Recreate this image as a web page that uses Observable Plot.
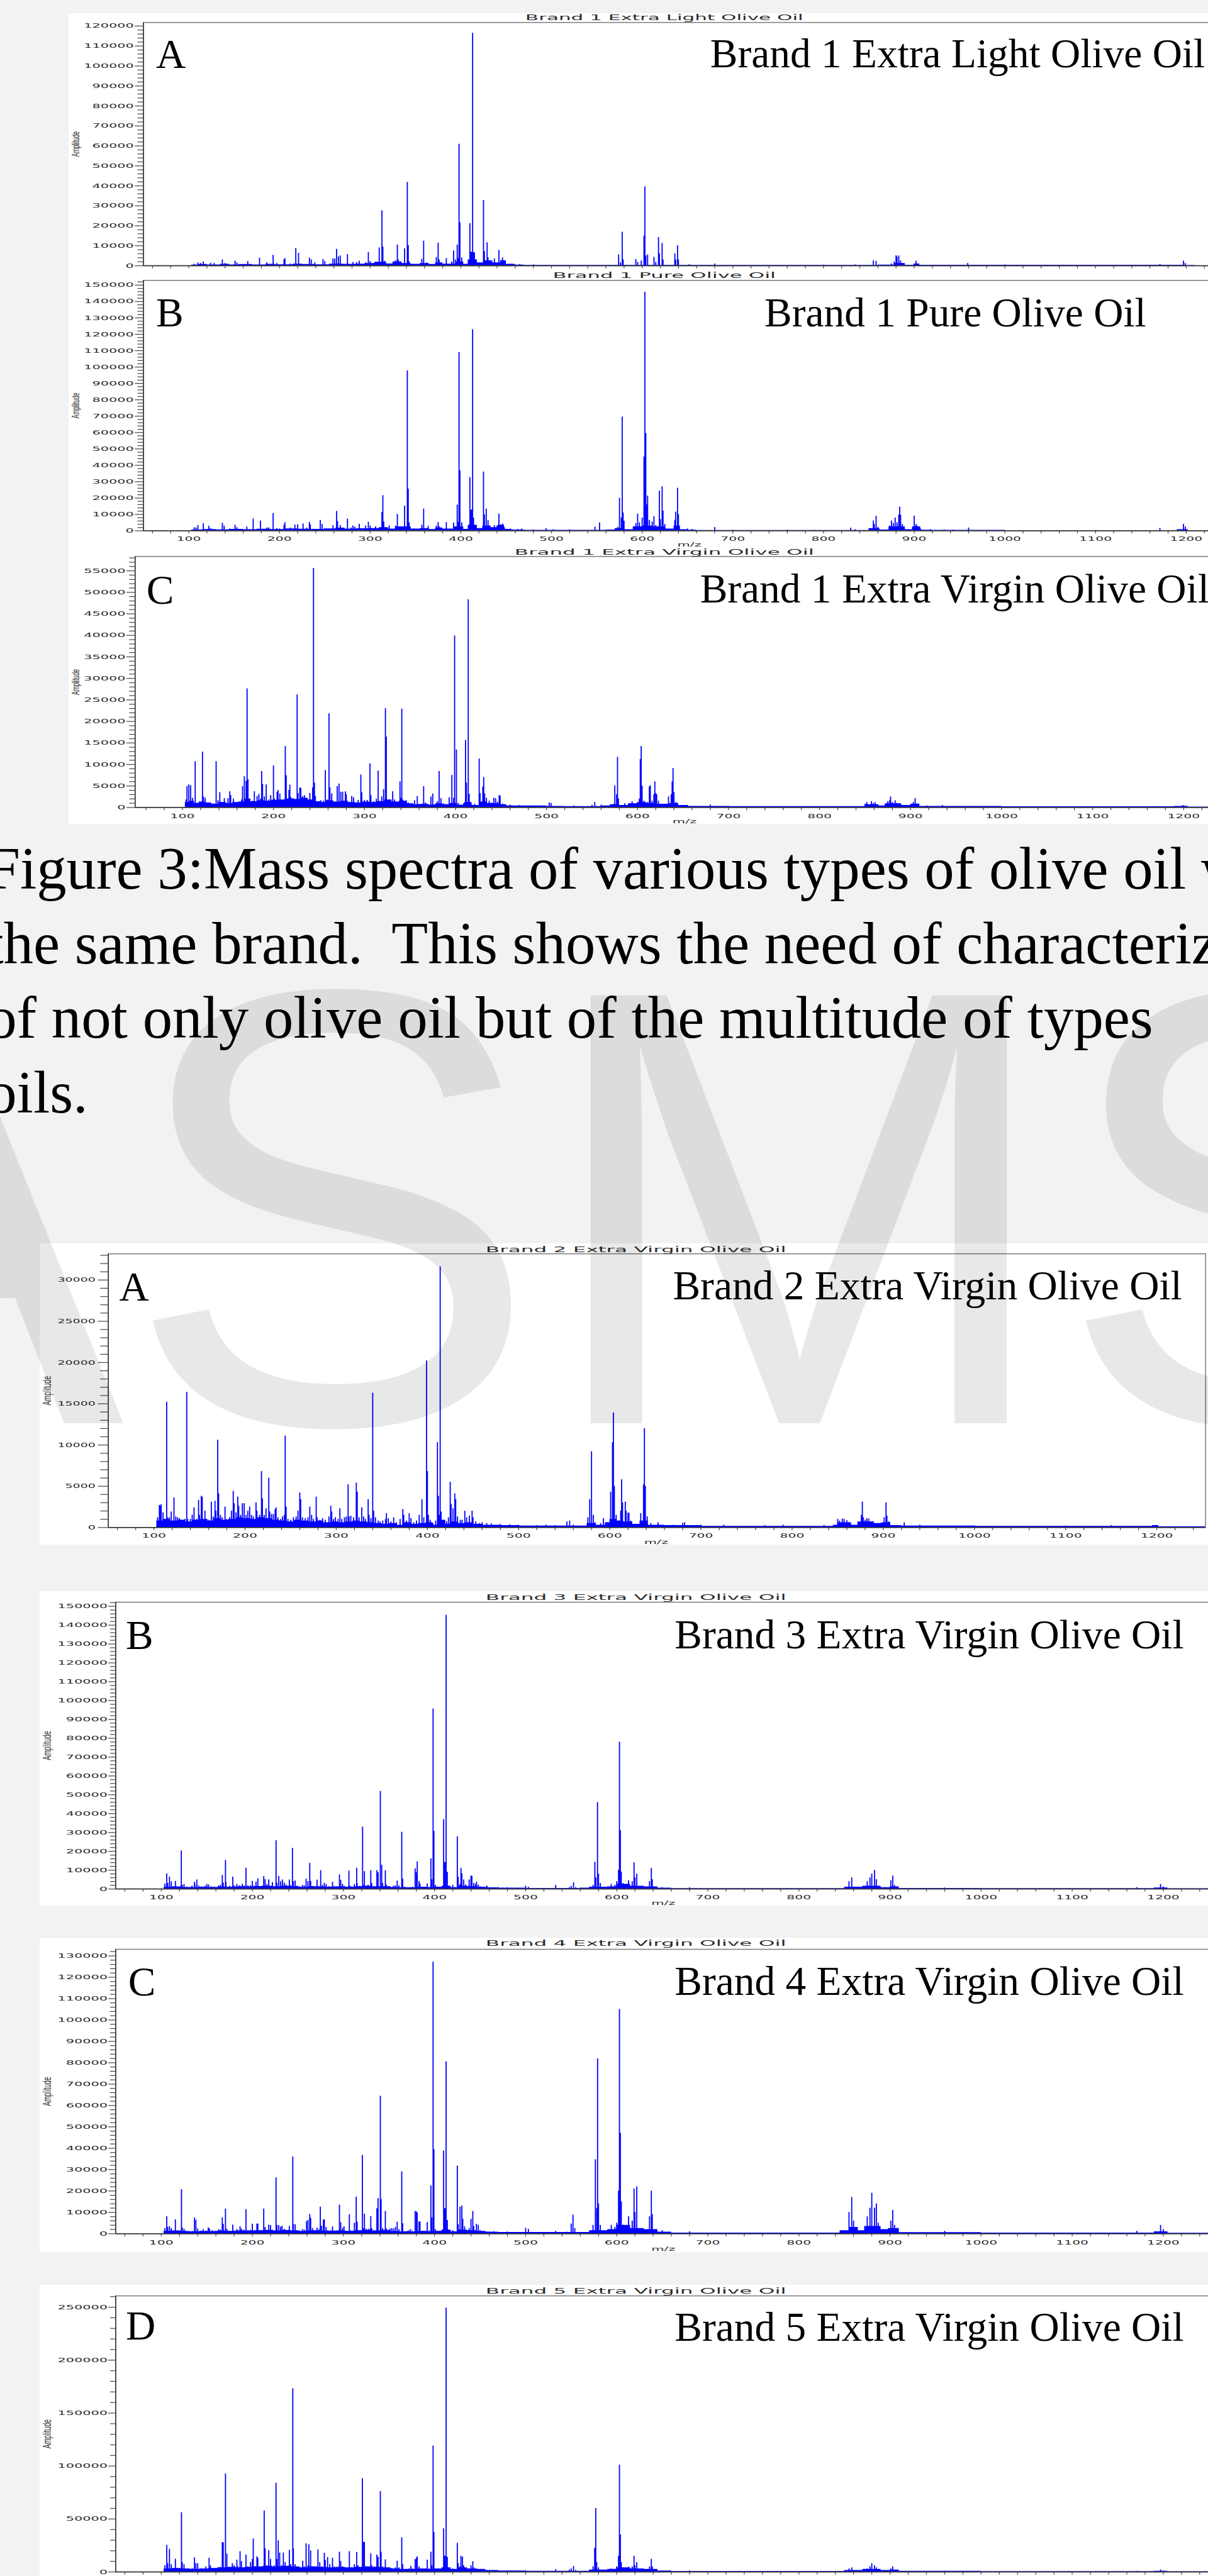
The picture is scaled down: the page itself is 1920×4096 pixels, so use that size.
<!DOCTYPE html>
<html><head><meta charset="utf-8">
<script src="https://cdn.jsdelivr.net/npm/d3@7"></script>
<script src="https://cdn.jsdelivr.net/npm/@observablehq/plot@0.6"></script>
<style>
html,body{margin:0;padding:0;}
body{width:1920px;height:4096px;background:#f2f2f2;position:relative;overflow:hidden;}
.panel{position:absolute;}
.cap{position:absolute;font-family:"Liberation Serif","Times New Roman",serif;color:#000;white-space:pre;line-height:1.107;}
.wm{position:absolute;font-family:"Liberation Sans",Arial,sans-serif;color:rgba(0,0,0,0.09);white-space:pre;line-height:1.117;pointer-events:none;z-index:10;}
</style></head><body>
<script>
const S = 1920/2025;

// ---------- tick labels ----------
const mzTickLabels = [100,200,300,400,500,600,700,800,900,1000,1100,1200];
const b1LightYTicks = [0,10000,20000,30000,40000,50000,60000,70000,80000,90000,100000,110000,120000];
const b1PureYTicks = [0,10000,20000,30000,40000,50000,60000,70000,80000,90000,100000,110000,120000,130000,140000,150000];
const b1EvooYTicks = [0,5000,10000,15000,20000,25000,30000,35000,40000,45000,50000,55000];
const b2EvooYTicks = [0,5000,10000,15000,20000,25000,30000];
const b3EvooYTicks = [0,10000,20000,30000,40000,50000,60000,70000,80000,90000,100000,110000,120000,130000,140000,150000];
const b4EvooYTicks = [0,10000,20000,30000,40000,50000,60000,70000,80000,90000,100000,110000,120000,130000];
const b5EvooYTicks = [0,50000,100000,150000,200000,250000];

// ---------- peaks [m/z, amplitude] ----------
const b1LightPeaks = [[106,800],[110,1500],[113,1200],[116,2000],[124,1300],[128,1200],[137,3000],[140,1200],[151,2400],[153,1500],[165,2200],[178,3900],[186,1500],[193,5300],[197,1200],[205,3000],[206,3700],[212,1000],[218,8700],[221,6300],[233,3900],[235,3000],[239,1500],[248,3200],[250,2200],[259,3500],[261,3500],[263,8300],[265,4500],[267,5000],[275,5700],[281,1700],[285,1700],[288,2400],[295,1500],[298,6800],[300,2200],[310,9000],[313,27600],[314,9400],[316,2300],[326,1500],[328,2500],[330,10400],[331,3000],[338,8500],[341,41800],[342,10200],[343,2000],[357,3300],[359,12400],[362,1500],[373,4200],[375,11400],[376,3000],[384,3700],[390,2000],[392,7500],[394,3000],[396,10400],[397,3700],[398,60900],[399,21600],[401,4000],[410,21200],[411,6900],[412,6800],[413,116400],[414,6700],[415,6500],[425,32800],[426,7200],[429,11600],[430,4000],[432,2500],[437,3500],[442,7700],[444,2800],[446,4000],[448,1500],[455,800],[465,700],[480,500],[574,5500],[576,1500],[578,16900],[579,3000],[593,3200],[595,1800],[599,2500],[602,14900],[603,39500],[604,5000],[606,5500],[613,4300],[615,1800],[618,14200],[619,6000],[622,11200],[623,3000],[636,6000],[637,3000],[639,10100],[640,3000],[652,600],[680,1000],[800,400],[835,500],[855,2500],[858,2300],[875,1000],[878,2000],[880,5100],[881,4500],[883,5000],[885,2500],[900,1000],[902,2400],[905,1000],[959,1200],[1000,500],[1171,700],[1197,2400],[1199,1200]];

const b1PurePeaks = [[106,2000],[108,1800],[110,3300],[116,4500],[122,2900],[124,1500],[137,4700],[139,3000],[145,1200],[151,3500],[153,2000],[164,2400],[171,7300],[179,6100],[186,1800],[188,1800],[193,10600],[197,1500],[200,1200],[205,3500],[206,5100],[212,1800],[217,3600],[220,3800],[226,4300],[230,1800],[233,5300],[234,3800],[245,6400],[247,4000],[250,1500],[259,3200],[263,11900],[264,5800],[267,3300],[271,1700],[275,7300],[279,1800],[281,3000],[283,2400],[288,4000],[290,1500],[295,3000],[298,5300],[300,3000],[306,2500],[310,1500],[313,11200],[314,21600],[315,5500],[321,3200],[328,3000],[330,10100],[331,2500],[338,15200],[341,97700],[342,25500],[343,5000],[348,1200],[357,3500],[359,13400],[364,2800],[373,3000],[375,5200],[376,2500],[384,5100],[392,4900],[396,15800],[397,5300],[398,109000],[399,36800],[401,5000],[410,32600],[411,12600],[412,12900],[413,122900],[414,7900],[421,1500],[425,36000],[426,9800],[428,13400],[430,6300],[432,3000],[437,3300],[440,3100],[442,10300],[444,3700],[446,4300],[448,2000],[455,1200],[463,1000],[467,1200],[480,600],[494,1500],[502,800],[520,700],[548,2400],[553,4900],[573,2200],[575,20000],[577,8000],[578,69500],[579,11000],[580,6000],[593,4500],[595,10300],[597,5000],[600,7900],[602,45200],[603,145700],[604,59500],[605,16000],[606,21300],[608,6500],[611,5500],[613,8700],[615,3300],[619,24300],[620,7000],[622,27000],[623,12100],[625,4000],[636,6500],[637,11500],[639,26100],[640,10000],[650,1200],[655,1000],[680,2100],[700,400],[760,500],[790,400],[830,1700],[835,800],[855,6100],[856,4000],[858,9000],[860,2200],[873,3000],[875,6100],[877,4500],[879,7900],[881,5000],[883,9700],[884,14600],[885,9700],[887,4000],[900,9000],[902,4000],[903,3000],[907,1200],[918,800],[933,600],[943,600],[960,1800],[1000,300],[1100,300],[1171,1600],[1197,4000],[1199,2400]];

const b1EvooPeaks = [[104,1800],[105,4900],[107,5300],[109,5100],[111,2200],[114,10700],[116,1000],[119,900],[122,12900],[123,2500],[125,2200],[127,1100],[130,900],[134,900],[137,10700],[139,1600],[141,3500],[143,1200],[146,2100],[150,2100],[152,3700],[153,2800],[156,2000],[159,1100],[162,1300],[165,1800],[166,4900],[168,7200],[170,6100],[171,27600],[172,6500],[175,1300],[177,1500],[179,3700],[182,2600],[184,3100],[186,2000],[187,8400],[188,5400],[190,2500],[192,5300],[195,1800],[197,2800],[200,9700],[201,2000],[204,3600],[205,4000],[207,3200],[210,1500],[212,1800],[213,14200],[214,7400],[217,4000],[218,5200],[219,2400],[222,2100],[226,26200],[227,3300],[229,4600],[230,4500],[232,2600],[234,2800],[236,1800],[240,3300],[243,4600],[244,55600],[245,5700],[246,2600],[249,1000],[252,1600],[255,1500],[257,8600],[259,1800],[261,21800],[262,4600],[264,3200],[267,1000],[270,4900],[272,5500],[274,3600],[276,3600],[279,3700],[280,3000],[283,1200],[286,2600],[288,2300],[291,1100],[293,1700],[296,7600],[297,3500],[300,1700],[303,1700],[306,10200],[307,2800],[310,1400],[313,2000],[315,8500],[317,1500],[319,2500],[321,4200],[323,23000],[324,16400],[326,1500],[329,1400],[331,3700],[333,1800],[336,1200],[339,6000],[340,2200],[341,22900],[342,1800],[344,1300],[346,1600],[348,1100],[352,700],[355,1600],[358,2600],[360,800],[365,4900],[367,1100],[370,700],[373,2500],[375,3200],[377,700],[380,1400],[382,8400],[384,2100],[387,900],[390,700],[393,2300],[396,7500],[398,2200],[399,39900],[401,13400],[403,1000],[409,1000],[411,15600],[412,5700],[414,48300],[415,3100],[418,600],[421,800],[426,11300],[427,3300],[430,4800],[431,7000],[432,3200],[434,2200],[437,1500],[440,1000],[442,2200],[444,2100],[446,1300],[448,2800],[449,2700],[452,800],[460,600],[470,500],[503,1100],[505,1000],[530,400],[550,600],[553,1200],[560,600],[570,400],[574,800],[575,5100],[577,3000],[578,11700],[579,2000],[586,900],[590,800],[594,1400],[596,900],[599,1000],[602,2000],[603,11200],[604,14200],[605,5000],[607,1500],[611,1200],[613,4800],[614,5100],[616,1500],[618,3000],[619,6000],[620,3300],[621,3000],[623,1500],[634,2500],[637,3000],[638,6000],[639,9100],[640,3500],[642,1200],[650,400],[655,500],[680,600],[700,300],[850,800],[852,1200],[857,1400],[859,1000],[861,1200],[875,1400],[877,1600],[878,2500],[880,1200],[883,1600],[885,1000],[903,1200],[905,2100],[907,900],[918,400],[935,500],[1172,250],[1198,400],[1200,500]];

const b2EvooPeaks = [[104,1200],[106,2700],[107,2600],[108,2800],[110,1800],[112,1000],[114,15200],[115,1200],[117,1200],[119,1900],[122,3600],[124,1300],[126,1200],[128,1100],[131,900],[134,1000],[136,16400],[137,1000],[140,1000],[142,1500],[144,2400],[147,1000],[149,3300],[150,1500],[152,3800],[153,3700],[156,2000],[158,1000],[160,900],[163,3100],[165,1300],[167,3200],[168,2000],[170,10600],[171,4100],[173,1500],[175,1200],[178,2500],[180,1000],[183,1200],[185,2000],[187,4400],[188,2900],[190,1800],[192,3700],[193,2600],[195,1500],[197,2900],[199,2900],[201,1500],[203,2000],[205,2500],[207,1500],[209,1300],[212,3000],[213,2000],[216,1500],[218,6800],[219,3500],[221,1500],[223,2300],[226,6000],[227,1900],[229,1600],[231,1600],[233,2200],[234,2400],[236,1200],[239,1000],[241,1300],[243,1500],[244,11100],[245,2500],[247,1000],[250,900],[253,1200],[256,1300],[258,2000],[260,4200],[261,3400],[263,1200],[266,1100],[269,1200],[271,2500],[273,1500],[275,1000],[278,3700],[279,1200],[282,900],[285,1100],[288,900],[292,1300],[294,2600],[295,1900],[297,1000],[299,1200],[302,1000],[304,2300],[306,1000],[309,1200],[311,1300],[313,5200],[314,1300],[316,1400],[319,1200],[322,5400],[323,4300],[325,1200],[328,2400],[330,1300],[332,1000],[335,3400],[336,1500],[338,1100],[340,16300],[341,2000],[343,1200],[346,800],[348,700],[351,800],[354,1000],[355,1700],[357,1100],[360,700],[363,1200],[366,600],[370,1000],[373,2200],[374,1500],[377,800],[380,1700],[382,1100],[385,600],[388,800],[391,1500],[394,3400],[396,1200],[399,20200],[400,6800],[401,1500],[403,900],[406,500],[409,800],[411,10300],[412,3800],[413,1500],[414,31600],[415,1900],[418,800],[421,700],[423,1200],[425,5500],[426,2800],[428,2300],[430,4100],[431,3400],[433,1300],[436,900],[438,900],[441,2000],[443,1200],[446,1400],[449,2000],[450,1200],[453,700],[457,500],[460,600],[465,500],[470,450],[480,400],[490,350],[500,300],[520,250],[530,300],[540,250],[553,700],[556,800],[560,300],[576,1200],[578,3400],[580,9200],[582,1500],[584,600],[590,500],[593,1100],[596,600],[601,4300],[603,10300],[604,13900],[605,5000],[607,1500],[610,800],[612,2000],[613,5800],[614,3000],[617,3100],[618,2000],[620,1750],[621,1750],[623,800],[634,1700],[637,5200],[638,12000],[639,5000],[641,1300],[645,500],[653,600],[670,300],[680,520],[682,600],[700,300],[725,300],[770,250],[790,300],[835,260],[850,1000],[852,800],[855,1050],[857,1000],[860,850],[862,600],[876,1500],[877,3100],[878,1200],[880,900],[882,1100],[884,1050],[886,700],[901,1200],[903,3000],[904,1400],[906,700],[923,600],[940,300],[1000,200],[1100,200],[1150,250],[1200,260]];

const b3EvooPeaks = [[104,2700],[106,8100],[107,3000],[109,6400],[111,3900],[113,1200],[115.5,4100],[118,1000],[122,20300],[123,2000],[125,2500],[128,1100],[133,1200],[134,1500],[136.5,3700],[137,2300],[139,4900],[141,1700],[144,1200],[148,1500],[150,2500],[152,2300],[155,1300],[158,1200],[163,1800],[165,2000],[167,7300],[168,3200],[170.5,15200],[171,3600],[175,1500],[178.5,6400],[180,1800],[183,2500],[186,1800],[189,2500],[191,1600],[193,11100],[195,1800],[198,1800],[200,4100],[202,1500],[204,3800],[206,5500],[208,1300],[211,1600],[212.5,6700],[214,5000],[216,2400],[218,4900],[220,1400],[222,3500],[226,25700],[227,3200],[229,6700],[231,4000],[233,4900],[235,3200],[237,2200],[240.6,4900],[242,1800],[244,21600],[245,4000],[247,4300],[249,1500],[252,1100],[255,2000],[257,1800],[259,5300],[261,4000],[263,13700],[264,4100],[266,1500],[268,1000],[271,4800],[273,1500],[275,9800],[277,2000],[279,3100],[281,2400],[284,1300],[287,1200],[288,3700],[290,1500],[292,1200],[295.6,7600],[297,4700],[299,2500],[301,1500],[304,1000],[306,9600],[307,1600],[309,1200],[312,2500],[314.5,11100],[315,2900],[318,1500],[321,32900],[322,1900],[323,9300],[325,1500],[327,2000],[330,9800],[331,3000],[334,1400],[336.7,9800],[338,8700],[340.5,51800],[342,12700],[343,3000],[346,9800],[347,2200],[350,1300],[353,900],[355,1600],[357,1800],[359,4300],[361,1800],[364,30200],[365,5300],[367,1100],[370,600],[373,900],[376,1100],[378.7,10800],[380,8700],[381,14500],[383,4100],[384,2700],[387,1000],[390,500],[392,2800],[394,1000],[396,16100],[397,5000],[398.4,95600],[399.3,30700],[401,2000],[404,500],[407,900],[410,36900],[411,14100],[412,14100],[412.7,145300],[414,9000],[417,600],[420,2000],[422,800],[425,27800],[426,6300],[428,2500],[429,11000],[430,8200],[432,4900],[434,2200],[436,1500],[438,4900],[440,6900],[441,6900],[443,3000],[445,2500],[446,3700],[448,2200],[450,1200],[453,800],[457,1600],[458,1200],[462,700],[466,600],[470,800],[475,600],[480,700],[485,500],[490,400],[500,1600],[503,1000],[510,400],[520,400],[533,2000],[540,400],[548,800],[550,1500],[552.6,3400],[555,800],[560,500],[574,2000],[576,14300],[577,6000],[578.9,45900],[580,8000],[582,3000],[590,1000],[594,2500],[598,2000],[600,4000],[602,10000],[603,78000],[604,31000],[605,9000],[607,3000],[613,4500],[617,4000],[619,14000],[620,6000],[622,8000],[636,4000],[638,11000],[639,5000],[650,800],[680,700],[855,4000],[858,6000],[875,4000],[878,6000],[880,8000],[883,10000],[885,5000],[901,4500],[903,7000],[905,2000],[960,600],[1171,800],[1197,2500],[1200,1200]];

const b4EvooPeaks = [[104,2500],[106,8000],[107,3000],[109,3400],[111,2500],[113,1000],[115.5,6600],[117,1200],[120,1100],[122.2,20700],[123,2800],[125,2200],[127,1300],[130,900],[133,1000],[134,1200],[136.5,7500],[138,6400],[140,2300],[143,1200],[146,2000],[149,1300],[151.6,2800],[153,2300],[156,1500],[160,1300],[163,2000],[165,1800],[167,7500],[168,4500],[170.5,11600],[172,2200],[175,1200],[178.5,4100],[180,1300],[183,2000],[186.5,3300],[188,2300],[191,1800],[193,11300],[195,1500],[198,1700],[200,4600],[202,1300],[205,4600],[206,4600],[209,1600],[212.5,11600],[214,3000],[216,1500],[218,4100],[220,3900],[222,1800],[226,26200],[227,4000],[229,3800],[231,3200],[232.6,3600],[235,2200],[237,1500],[240.6,3500],[242,1500],[244.4,36000],[245,4500],[247,4300],[249,1500],[252,1000],[255,2000],[257,1800],[259.5,5800],[261,6300],[263,9100],[264,7300],[266,2500],[268,1000],[271,2700],[273,2000],[274.6,12500],[276,3600],[278,6500],[279,6600],[281,3000],[283,1500],[286,1500],[288,3300],[290,1500],[292,1300],[295.6,13500],[297,5300],[299,2600],[300.6,3300],[303,1200],[306.5,9000],[308,1400],[310,1200],[312,5000],[314,17200],[315,5500],[318,1400],[320.8,36700],[322,2500],[323,9300],[325,2200],[328,2200],[330,8100],[331,2500],[334,1400],[336.7,11800],[338,16600],[340.5,64400],[341.3,16100],[343,2500],[346,10500],[347,2300],[349,1500],[351,2300],[353,2500],[355,2300],[357,3000],[359,5500],[361,2000],[364,29000],[365,4800],[367,1000],[370,1200],[372,1500],[373.7,2000],[376,1200],[378.7,10500],[380,10300],[381,9800],[383,5600],[384,5600],[387,1000],[390,1000],[392,5300],[394,1500],[396,22500],[397,7500],[398.4,127100],[399.3,39400],[401,2000],[404,500],[407,1200],[410,38800],[411,11800],[412,11800],[412.7,80500],[414,6300],[417,800],[420,1500],[422,1000],[425,31700],[426,4300],[428,12500],[430,13000],[431,6900],[433,3300],[436,1300],[438,2500],[440,6800],[442,10500],[443,3500],[446,4500],[448,4000],[450,1500],[453,700],[457,1000],[460,800],[465,1000],[470,600],[480,900],[490,600],[500,2600],[503,2100],[510,500],[520,600],[530,500],[533,1200],[540,600],[545,800],[550,4600],[552,8800],[554,2500],[560,500],[574,4000],[576.6,34700],[578,11800],[579,81900],[580,14000],[582,4000],[590,1500],[594,4000],[598,3000],[600,5000],[602,20000],[603,105000],[604,47000],[605,15000],[607,4000],[613,8000],[617,6000],[619,21000],[620,10000],[622,22000],[636,8000],[638,20000],[639,9000],[650,1500],[680,1000],[855,10000],[858,17000],[860,6000],[875,8000],[878,12000],[880,19000],[883,12000],[885,14000],[887,5000],[901,6000],[903,11000],[905,4000],[960,1200],[1171,1200],[1197,4000],[1200,2000]];

const b5EvooPeaks = [[104,6000],[106,25300],[107,8000],[109,21600],[111,7000],[113,2000],[115.5,12200],[117,3000],[120,2500],[122.2,56100],[123,9000],[125,7000],[128,3000],[131,2000],[134,3500],[136.5,13500],[138,8000],[140,8000],[143,3000],[146,2500],[149,5000],[152.5,13100],[154,6000],[157,3000],[160,2000],[163,4000],[165,4500],[167,27800],[168,27800],[170.5,92700],[172,17000],[175,3000],[178,8000],[180,6000],[183,11300],[184,5000],[186.5,19300],[188,10000],[191,4000],[193,16000],[195,5000],[198,9000],[200,12000],[201,31300],[203,5000],[205,14500],[206,13000],[209,4000],[211,5000],[213,57600],[214,22000],[216,6000],[218,20300],[220,12000],[222,4000],[224,6000],[226,83900],[227,12000],[228.4,29500],[230,18000],[232,6000],[234,18000],[236,9000],[238,5000],[240.6,20600],[242,7000],[244.4,173100],[245,22000],[247,7000],[250,3000],[253,4000],[255.3,10300],[257,5000],[259,26700],[261,6000],[262,25900],[264,20000],[266,5000],[268,3000],[272,21000],[274,9000],[276,5000],[279,17800],[280,11000],[282.6,13700],[285,7000],[288,13100],[290,5000],[292,4000],[295.6,18800],[297,10000],[299,5000],[301,4000],[304,3000],[306.5,19300],[308,4000],[310,3000],[312,7000],[314.5,18600],[316,6000],[318,3000],[320.8,88200],[322,28000],[323,28200],[325,5000],[328,4000],[330,17300],[331,6000],[334,5000],[336.7,16000],[338,14000],[340.5,76000],[341.3,18800],[343,5000],[346,11600],[347,4000],[350,2500],[353,3500],[355,3000],[357,4000],[359,10300],[361,4000],[364,32500],[365,7000],[367,2000],[370,2000],[372,3000],[374,5600],[376,3000],[378.7,11800],[380,13000],[381,14500],[383,5000],[385,2000],[390,2000],[392,11300],[394,3000],[396,18800],[397,6000],[398.4,119000],[399.3,37500],[401,3000],[404,1500],[407,2000],[410,40900],[411,15000],[412,15000],[412.7,249300],[414,14000],[417,2000],[420,3000],[422,2000],[425,27200],[426,8000],[428,5000],[429,15000],[430.7,14100],[432,6000],[434,3000],[436,2000],[440,6000],[442,9900],[443,4000],[446,3000],[448,2000],[452,1500],[457,1500],[462,1200],[470,1200],[480,1000],[490,800],[500,1000],[510,800],[520,600],[533,2300],[540,800],[548,2000],[550,3000],[552.6,5300],[555,1500],[565,800],[570,1500],[574,5000],[575.8,22500],[577,60000],[578,9000],[580,4000],[590,1500],[594,3000],[598,2500],[600,5000],[602,15000],[603,101000],[604,35000],[605,9000],[607,3000],[613,4500],[617,5000],[619,15000],[620,6000],[622,9000],[636,5000],[638,12000],[639,5000],[650,1000],[680,1000],[855,3000],[858,4000],[875,3000],[878,5000],[880,8000],[883,6000],[885,4000],[901,3000],[903,5000],[960,800],[1171,800],[1197,2000],[1200,1000]];

// ---------- baseline noise floor [m/z, amplitude] ----------
const b1LightFloor = [[103,400],[110,700],[120,500],[135,800],[145,500],[155,700],[170,500],[185,800],[195,600],[215,900],[225,700],[240,600],[255,900],[270,800],[285,900],[295,1200],[305,1800],[318,1000],[325,2000],[335,1200],[345,800],[355,1200],[365,700],[372,1500],[380,900],[395,2000],[403,800],[408,3000],[418,1500],[425,2500],[435,1500],[445,2500],[450,800],[460,400],[470,250],[600,250],[860,400],[878,1200],[890,300],[900,1000],[905,300],[1200,200],[1210,0]];
const b1PureFloor = [[103,600],[115,900],[130,700],[145,1000],[160,800],[175,1100],[190,900],[205,1300],[220,1100],[235,1000],[250,1300],[262,1700],[272,1200],[285,1400],[300,1500],[310,2000],[320,1200],[328,2500],[336,2500],[345,1200],[355,1500],[365,900],[372,1800],[380,1200],[393,2500],[403,1000],[408,3500],[418,1500],[424,3000],[433,2000],[441,3500],[448,1000],[455,600],[470,400],[560,600],[570,1500],[580,800],[590,2500],[600,3000],[612,2500],[625,1200],[635,3000],[642,800],[650,500],[660,300],[850,1500],[862,600],[872,2500],[890,800],[898,2500],[907,500],[920,400],[1000,250],[1190,800],[1202,250],[1230,0]];
const b1EvooFloor = [[103,1200],[108,1500],[113,1000],[118,1300],[125,1100],[132,800],[140,1200],[148,1000],[155,1200],[162,1300],[168,2000],[175,1400],[182,1600],[190,1500],[198,1700],[206,1800],[214,2000],[222,1900],[230,2200],[238,1800],[245,1400],[252,1200],[258,1600],[266,1300],[274,1500],[282,1200],[290,1100],[298,1300],[306,1200],[314,1400],[322,1800],[330,1300],[338,1500],[346,900],[354,700],[362,800],[370,600],[378,900],[386,700],[394,1000],[402,600],[410,1200],[418,500],[426,1300],[434,1000],[442,900],[450,700],[456,400],[500,300],[520,250],[560,400],[570,700],[580,500],[590,900],[600,1200],[610,1000],[620,800],[635,1000],[645,500],[655,300],[700,250],[850,700],[865,400],[872,900],[890,500],[900,800],[910,300],[1000,200],[1190,300],[1205,150],[1250,150]];
const b2EvooFloor = [[103,800],[110,1000],[118,800],[126,900],[134,700],[142,900],[150,1000],[158,800],[166,1100],[174,900],[182,1000],[190,1200],[198,1100],[206,1000],[214,1200],[222,1100],[230,900],[238,800],[246,700],[254,900],[262,800],[270,700],[278,800],[286,600],[294,700],[302,600],[310,700],[318,800],[326,700],[334,600],[342,500],[350,400],[358,500],[366,300],[374,600],[382,400],[390,500],[398,600],[406,300],[412,900],[420,400],[426,700],[434,500],[442,600],[450,400],[460,300],[480,250],[500,200],[560,200],[575,500],[585,300],[595,600],[600,1000],[608,800],[615,700],[625,400],[633,800],[642,300],[660,250],[700,150],[845,300],[850,600],[865,300],[872,700],[890,500],[898,600],[908,250],[920,200],[1000,150],[1195,250],[1202,100],[1254,100]];
const b3EvooFloor = [[103,1000],[112,1200],[122,900],[132,800],[142,1000],[152,900],[162,1100],[172,1000],[182,1300],[192,1200],[202,1400],[212,1500],[222,1300],[232,1500],[242,1300],[252,1000],[262,1300],[272,1100],[282,1000],[292,1200],[302,1000],[312,1300],[322,1500],[332,1200],[342,1300],[352,900],[362,800],[372,700],[382,1000],[392,700],[400,1000],[408,1500],[418,800],[426,1500],[436,1300],[446,1000],[456,700],[470,500],[500,400],[560,500],[570,1000],[590,1200],[600,2500],[615,1500],[630,1200],[645,500],[660,300],[850,1000],[870,1500],[890,800],[900,1200],[910,400],[1000,250],[1190,600],[1205,200],[1254,200]];
const b4EvooFloor = [[103,1200],[112,1400],[122,1100],[132,1000],[142,1200],[152,1100],[162,1300],[172,1200],[182,1400],[192,1300],[202,1500],[212,1600],[222,1400],[232,1600],[242,1400],[252,1200],[262,1500],[272,1300],[282,1200],[292,1400],[302,1200],[312,1500],[322,1700],[332,1400],[342,1600],[352,1100],[362,1000],[372,900],[382,1200],[392,900],[400,1200],[408,1800],[418,1000],[426,1800],[436,1500],[446,1200],[456,800],[470,700],[500,700],[560,700],[570,1500],[590,2000],[600,4000],[615,2500],[630,2000],[645,800],[660,400],[845,1500],[855,3000],[865,1500],[872,3500],[890,2000],[898,2500],[910,600],[1000,350],[1190,1000],[1205,300],[1254,300]];
const b5EvooFloor = [[103,3000],[112,3500],[122,3000],[132,2500],[142,3000],[152,3500],[162,4000],[172,4500],[182,4000],[192,4500],[202,5000],[212,5500],[222,5000],[232,5500],[242,5000],[252,4000],[262,5000],[272,4500],[282,4000],[292,4500],[302,4000],[312,4500],[322,5000],[332,4500],[342,4000],[352,3000],[362,2500],[372,2500],[382,3000],[392,2500],[400,3000],[408,4000],[418,2500],[426,4000],[436,3000],[446,2500],[456,1500],[470,1000],[500,800],[560,800],[570,2000],[590,2500],[600,4000],[615,3000],[630,2500],[645,1000],[660,600],[850,1500],[870,2500],[890,1500],[900,2000],[910,800],[1000,500],[1190,800],[1205,300],[1254,300]];

// ---------- texts ----------
const panelTitles = ["Brand 1 Extra Light Olive Oil","Brand 1 Pure Olive Oil","Brand 1 Extra Virgin Olive Oil","Brand 2 Extra Virgin Olive Oil","Brand 3 Extra Virgin Olive Oil","Brand 4 Extra Virgin Olive Oil","Brand 5 Extra Virgin Olive Oil"];
const panelLetters = ["A","B","C","A","B","C","D"];
const captionLines = ["Figure 3:Mass spectra of various types of olive oil within","the same brand.  This shows the need of characterization","of not only olive oil but of the multitude of types","oils."];

// ---------- layout (reference pixel units, scaled by S) ----------
const layout = [
 {box:[115,22,2074,457], frameTop:37, baseline:445, axisX:240, xDomain:[50,1250], frameRight:2064, yMax:121800, yMinor:2000, titleX:1113, titleW:466, titleY:33, letterX:261, letterY:113, bigX:1190, bigY:112, ampX:127, ampFont:9.6, tMaj:14, tMin:9.5, tPad:2, ySx:2.2, xLabels:false, xPad:4.5, mz:null},
 {box:[115,457,2074,920], frameTop:470, baseline:890, axisX:240, xDomain:[50,1250], frameRight:2064, yMax:152900, yMinor:2000, titleX:1113, titleW:374, titleY:466, letterX:261, letterY:547, bigX:1281, bigY:547, ampX:127, ampFont:9.6, tMaj:14, tMin:9.5, tPad:2, ySx:2.2, xLabels:true, xPad:4.5, mz:[1155,913]},
 {box:[115,920,2074,1382], frameTop:933, baseline:1354, axisX:226, xDomain:[48,1250], frameRight:2060, yMax:58330, yMinor:1000, titleX:1113, titleW:502, titleY:930, letterX:245, letterY:1012, bigX:1173, bigY:1010, ampX:127, ampFont:9.8, tMaj:14, tMin:9.5, tPad:2, ySx:2.2, xLabels:true, xPad:5.4, mz:[1147,1377]},
 {box:[66,2085,2030,2590], frameTop:2102, baseline:2561, axisX:180.6, xDomain:[50,1253.5], frameRight:2020, yMax:33180, yMinor:1000, titleX:1065, titleW:504, titleY:2099, letterX:199, letterY:2180, bigX:1127, bigY:2178, ampX:78, ampFont:11, tMaj:17, tMin:13, tPad:4.5, ySx:2.0, xLabels:true, xPad:5.4, mz:[1099,2585]},
 {box:[66,2668,2040,3196], frameTop:2686, baseline:3167, axisX:193, xDomain:[50,1253], frameRight:2030, yMax:152200, yMinor:2000, titleX:1065, titleW:504, titleY:2682, letterX:210, letterY:2764, bigX:1130, bigY:2763, ampX:78, ampFont:11, tMaj:12, tMin:9, tPad:1.5, ySx:2.2, xLabels:true, xPad:5.4, mz:[1111,3191]},
 {box:[66,3250,2040,3777], frameTop:3269, baseline:3746, axisX:193, xDomain:[50,1253], frameRight:2030, yMax:133070, yMinor:2000, titleX:1065, titleW:504, titleY:3263, letterX:214, letterY:3347, bigX:1130, bigY:3345, ampX:78, ampFont:11, tMaj:12, tMin:9, tPad:1.5, ySx:2.2, xLabels:true, xPad:6, mz:[1111,3771]},
 {box:[66,3832,2040,4340], frameTop:3850, baseline:4313, axisX:193, xDomain:[50,1253], frameRight:2030, yMax:260700, yMinor:10000, titleX:1065, titleW:504, titleY:3846, letterX:210, letterY:3923, bigX:1130, bigY:3925, ampX:78, ampFont:11, tMaj:12, tMin:9, tPad:1.5, ySx:2.2, xLabels:false, xPad:5.4, mz:null}
];
const peakSets = [b1LightPeaks,b1PurePeaks,b1EvooPeaks,b2EvooPeaks,b3EvooPeaks,b4EvooPeaks,b5EvooPeaks];
const floorSets = [b1LightFloor,b1PureFloor,b1EvooFloor,b2EvooFloor,b3EvooFloor,b4EvooFloor,b5EvooFloor];
const yTickSets = [b1LightYTicks,b1PureYTicks,b1EvooYTicks,b2EvooYTicks,b3EvooYTicks,b4EvooYTicks,b5EvooYTicks];

const BLUE = "#0000ff";
const INK = "#2a2a2a";
const AXIS = "#4a4a4a";
const SOFT = "DejaVu Sans, Verdana, sans-serif";
const SERIF = "Liberation Serif, Times New Roman, serif";

function stretch(el, sx) {
  const tr = el.getAttribute("transform") || "";
  if (tr.includes("rotate(")) el.setAttribute("transform", tr.replace("rotate(", `scale(${sx},1) rotate(`));
  else el.setAttribute("transform", tr + ` scale(${sx},1)`);
}

const xMinor = d3.range(60, 1241, 20).filter(v => !mzTickLabels.includes(v));

layout.forEach((p, i) => {
  const [bl, bt, br, bb] = p.box;
  const W = (br - bl) * S, H = (bb - bt) * S;
  const yMajor = yTickSets[i];
  const yMinor = d3.range(0, p.yMax, p.yMinor).filter(v => !yMajor.includes(v));
  const marks = [
    Plot.areaY(floorSets[i], {x: d => d[0], y: d => d[1], curve: "step-after", fill: BLUE}),
    Plot.ruleX(peakSets[i], {x: d => d[0], y1: 0, y2: d => d[1], stroke: BLUE, strokeWidth: 1.9 * S}),
    Plot.frame({stroke: "#7c7c7c", strokeWidth: 1.6 * S}),
    Plot.axisY(yMinor, {anchor: "left", tickSize: p.tMin * S, stroke: AXIS, strokeWidth: 1.3 * S, fill: "none", tickFormat: () => "", label: null}),
    Plot.axisY(yMajor, {anchor: "left", tickSize: p.tMaj * S, tickPadding: p.tPad * S, stroke: AXIS, strokeWidth: 1.3 * S, fill: INK, fontSize: 10 * S, fontFamily: SOFT, tickFormat: d => String(d), label: null}),
    Plot.axisX(xMinor, {anchor: "bottom", tickSize: 5 * S, stroke: AXIS, strokeWidth: 1.3 * S, fill: "none", tickFormat: () => "", label: null}),
    Plot.axisX(mzTickLabels, {anchor: "bottom", tickSize: 5 * S, tickPadding: p.xPad * S, stroke: AXIS, strokeWidth: 1.3 * S, fill: p.xLabels ? INK : "none", fontSize: 10 * S, fontFamily: SOFT, tickFormat: d => p.xLabels ? String(d) : "", label: null}),
    Plot.ruleY([0], {stroke: "#333", strokeWidth: 1.6 * S}),
    Plot.ruleX([p.xDomain[0]], {stroke: "#333", strokeWidth: 1.6 * S}),
    Plot.text([panelTitles[i]], {text: d => d, frameAnchor: "top-left", dx: (p.titleX - p.axisX) * S, dy: (p.titleY - p.frameTop) * S, textAnchor: "middle", lineAnchor: "bottom", fontFamily: SOFT, fontSize: 13 * S, fill: INK, ariaDescription: "panel-title"}),
    Plot.text([panelLetters[i]], {text: d => d, frameAnchor: "top-left", dx: (p.letterX - p.axisX) * S, dy: (p.letterY - p.frameTop) * S, textAnchor: "start", lineAnchor: "bottom", fontFamily: SERIF, fontSize: 69 * S, fill: "#000", ariaDescription: "panel-letter"}),
    Plot.text([panelTitles[i]], {text: d => d, frameAnchor: "top-left", dx: (p.bigX - p.axisX) * S, dy: (p.bigY - p.frameTop) * S, textAnchor: "start", lineAnchor: "bottom", fontFamily: SERIF, fontSize: 69 * S, fill: "#000", ariaDescription: "panel-label"}),
    Plot.text(["Amplitude"], {text: d => d, frameAnchor: "left", dx: (p.ampX - p.axisX) * S, rotate: -90, textAnchor: "middle", lineAnchor: "middle", fontFamily: "Liberation Sans, Arial, sans-serif", fontSize: p.ampFont * S, fill: INK, ariaDescription: "amp-label"})
  ];
  if (p.mz) marks.push(Plot.text(["m/z"], {text: d => d, frameAnchor: "bottom-left", dx: (p.mz[0] - p.axisX) * S, dy: (p.mz[1] - p.baseline) * S, textAnchor: "middle", lineAnchor: "middle", fontFamily: SOFT, fontSize: 10 * S, fill: INK, ariaDescription: "mz-label"}));

  const svg = Plot.plot({
    width: W, height: H,
    marginLeft: (p.axisX - bl) * S, marginRight: (br - p.frameRight) * S,
    marginTop: (p.frameTop - bt) * S, marginBottom: (bb - p.baseline) * S,
    x: {domain: p.xDomain},
    y: {domain: [0, p.yMax]},
    style: "background:#fff;overflow:visible;max-width:none;display:block;",
    marks
  });
  svg.querySelectorAll('g[aria-label="y-axis tick label"] text').forEach(t => stretch(t, p.ySx));
  svg.querySelectorAll('g[aria-label="x-axis tick label"] text').forEach(t => stretch(t, 2.15));
  // locate the annotation texts by their content (document order: small title first, big label second)
  const allText = Array.from(svg.querySelectorAll("text"));
  const titleEls = allText.filter(t => t.textContent === panelTitles[i]);
  if (titleEls.length) {
    titleEls[0].setAttribute("textLength", p.titleW * S);
    titleEls[0].setAttribute("lengthAdjust", "spacingAndGlyphs");
  }
  allText.filter(t => t.textContent === "Amplitude").forEach(t => stretch(t, 1.8));
  allText.filter(t => t.textContent === "m/z").forEach(t => stretch(t, 2.2));

  const wrap = document.createElement("div");
  wrap.className = "panel";
  wrap.style.left = (bl * S) + "px";
  wrap.style.top = (bt * S) + "px";
  wrap.style.width = W + "px";
  wrap.style.height = H + "px";
  wrap.appendChild(svg);
  document.body.appendChild(wrap);
});

// caption
const capFont = 100, capX = -22, capBase = [1492, 1617, 1742, 1867];
captionLines.forEach((line, k) => {
  const d = document.createElement("div");
  d.className = "cap";
  d.textContent = line;
  d.style.fontSize = (capFont * S) + "px";
  d.style.left = (capX * S) + "px";
  d.style.top = ((capBase[k] - 0.891 * capFont) * S) + "px";
  document.body.appendChild(d);
});

// watermark
const wmFont = 1043, wmBase = 2388, wmX = -487;
const wm = document.createElement("div");
wm.className = "wm";
wm.textContent = "ASMS";
wm.style.fontSize = (wmFont * S) + "px";
wm.style.left = (wmX * S) + "px";
wm.style.top = ((wmBase - 0.905 * wmFont) * S) + "px";
document.body.appendChild(wm);
</script>
</body></html>
